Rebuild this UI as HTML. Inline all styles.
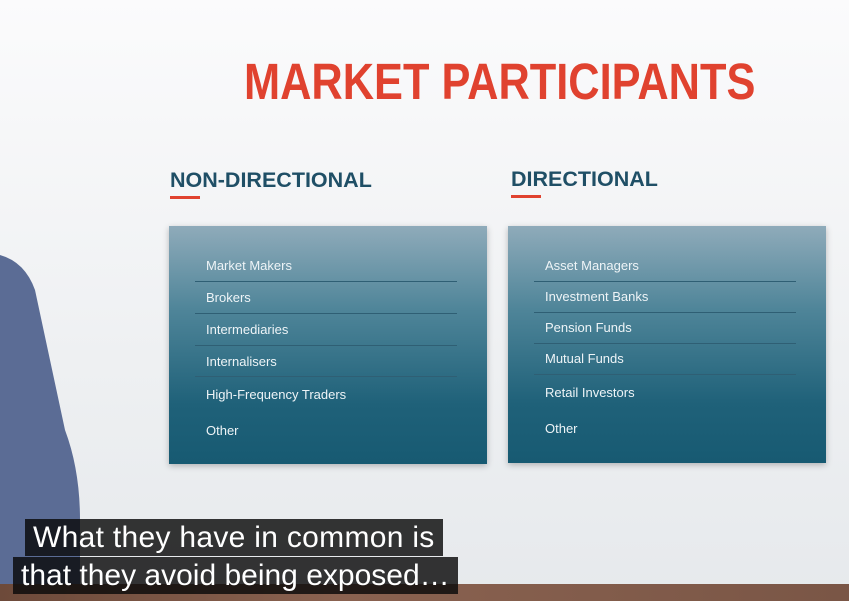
<!DOCTYPE html>
<html><head><meta charset="utf-8"><style>
body{margin:0;width:849px;height:601px;overflow:hidden;position:relative;font-family:"Liberation Sans",sans-serif;background:linear-gradient(180deg,#fbfbfc 0%,#eef0f2 60%,#e6e9ec 100%)}
.abs{position:absolute}
.title{left:244px;top:52px;font-size:51px;font-weight:bold;color:#e0422f;white-space:nowrap;transform:scaleX(0.85);transform-origin:0 0}
.hdr{font-size:21.5px;font-weight:bold;color:#1f4f66;white-space:nowrap}
.ul{height:3px;width:30px;background:#e0422f}
.panel{background:linear-gradient(180deg,#8fabba 0%,#4f8599 35%,#1f6179 75%,#175a72 100%);box-shadow:0 2px 6px rgba(0,0,0,.25)}
.row{position:absolute;left:37px;color:#eef4f7;font-size:13px;white-space:nowrap}
.sep{position:absolute;left:26px;width:262px;height:1px;background:#2f5f74}
.sub{background:rgba(10,10,10,.82);color:#fff;font-size:30px;padding:0 8px;white-space:nowrap;line-height:37px}
</style></head><body>
<div class="abs title">MARKET PARTICIPANTS</div>
<div class="abs hdr" style="left:170px;top:168px">NON-DIRECTIONAL</div>
<div class="abs ul" style="left:170px;top:196px"></div>
<div class="abs hdr" style="left:511px;top:167px">DIRECTIONAL</div>
<div class="abs ul" style="left:511px;top:195px"></div>

<div class="abs panel" style="left:169px;top:226px;width:318px;height:238px">
<div class="row" style="top:32px">Market Makers</div>
<div class="sep" style="top:55px"></div>
<div class="row" style="top:64px">Brokers</div>
<div class="sep" style="top:87px"></div>
<div class="row" style="top:96px">Intermediaries</div>
<div class="sep" style="top:119px"></div>
<div class="row" style="top:128px">Internalisers</div>
<div class="sep" style="top:150px"></div>
<div class="row" style="top:161px">High-Frequency Traders</div>
<div class="row" style="top:197px">Other</div>
</div>

<div class="abs panel" style="left:508px;top:226px;width:318px;height:237px">
<div class="row" style="top:32px">Asset Managers</div>
<div class="sep" style="top:55px"></div>
<div class="row" style="top:63px">Investment Banks</div>
<div class="sep" style="top:86px"></div>
<div class="row" style="top:94px">Pension Funds</div>
<div class="sep" style="top:117px"></div>
<div class="row" style="top:125px">Mutual Funds</div>
<div class="sep" style="top:148px"></div>
<div class="row" style="top:159px">Retail Investors</div>
<div class="row" style="top:195px">Other</div>
</div>

<svg class="abs" style="left:0;top:0" width="849" height="601">
<path d="M0,255 Q25,262 35,290 Q50,360 65,430 Q80,470 80,520 L80,590 L0,590 Z" fill="#5b6c95"/>
</svg>
<div class="abs" style="left:0;top:584px;width:849px;height:17px;background:linear-gradient(90deg,#6d4a3a,#8a6250 40%,#7a5646)"></div>

<div class="abs sub" style="left:25px;top:519px;letter-spacing:0.3px">What they have in common is</div>
<div class="abs sub" style="left:13px;top:557px">that they avoid being exposed…</div>
</body></html>
